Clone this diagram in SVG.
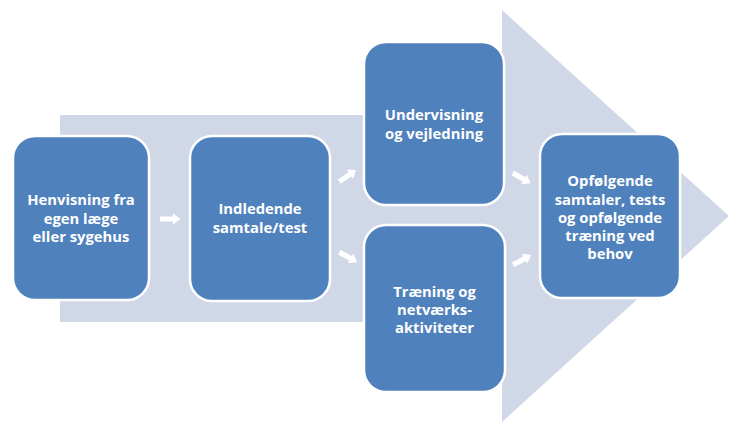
<svg xmlns="http://www.w3.org/2000/svg" width="729" height="422" viewBox="0 0 729 422">
<defs>
<style>
.bg{fill:#D0D8E8}
.node rect{fill:#4F81BD;stroke:#FFFFFF;stroke-width:2.5}
.node text{fill:#FFFFFF;font-family:"Open Sans","Liberation Sans",Arial,sans-serif;font-weight:bold;font-size:14.8px;text-anchor:middle}
.conn polygon{fill:#FFFFFF}
</style>
<polygon id="ba" points="-10,-2.6 3,-2.6 3,-5.5 10.5,0 3,5.5 3,2.6 -10,2.6"/>
</defs>
<rect width="729" height="422" fill="#FFFFFF"/>
<polygon class="bg" points="60,115 502,115 502,10 729,216 502,422 502,322 60,322"/>
<g id="n1" class="node">
<rect x="13" y="136" width="136" height="164" rx="22"/>
<text x="81" y="205">Henvisning fra</text>
<text x="81" y="223.5">egen læge</text>
<text x="81" y="242">eller sygehus</text>
</g>
<g id="n2" class="node">
<rect x="190" y="136" width="140" height="165" rx="22"/>
<text x="260" y="214">Indledende</text>
<text x="260" y="232.5">samtale/test</text>
</g>
<g id="n3" class="node">
<rect x="364" y="42" width="140" height="163" rx="22"/>
<text x="434" y="120">Undervisning</text>
<text x="434" y="138.5">og vejledning</text>
</g>
<g id="n4" class="node">
<rect x="364" y="225" width="141" height="167" rx="22"/>
<text x="434.5" y="297">Træning og</text>
<text x="434.5" y="315">netværks-</text>
<text x="434.5" y="333">aktiviteter</text>
</g>
<g id="n5" class="node">
<rect x="540" y="134" width="140" height="164" rx="22"/>
<text x="610" y="186">Opfølgende</text>
<text x="610" y="204.5">samtaler, tests</text>
<text x="610" y="223">og opfølgende</text>
<text x="610" y="241">træning ved</text>
<text x="610" y="259">behov</text>
</g>
<g id="connectors" class="conn">
<use href="#ba" transform="translate(170,219)" fill="#FFFFFF"/>
<use href="#ba" transform="translate(347.5,176) rotate(-35)" fill="#FFFFFF"/>
<use href="#ba" transform="translate(348,257) rotate(30)" fill="#FFFFFF"/>
<use href="#ba" transform="translate(521.5,178) rotate(30)" fill="#FFFFFF"/>
<use href="#ba" transform="translate(522,260) rotate(-28)" fill="#FFFFFF"/>
</g>
</svg>
